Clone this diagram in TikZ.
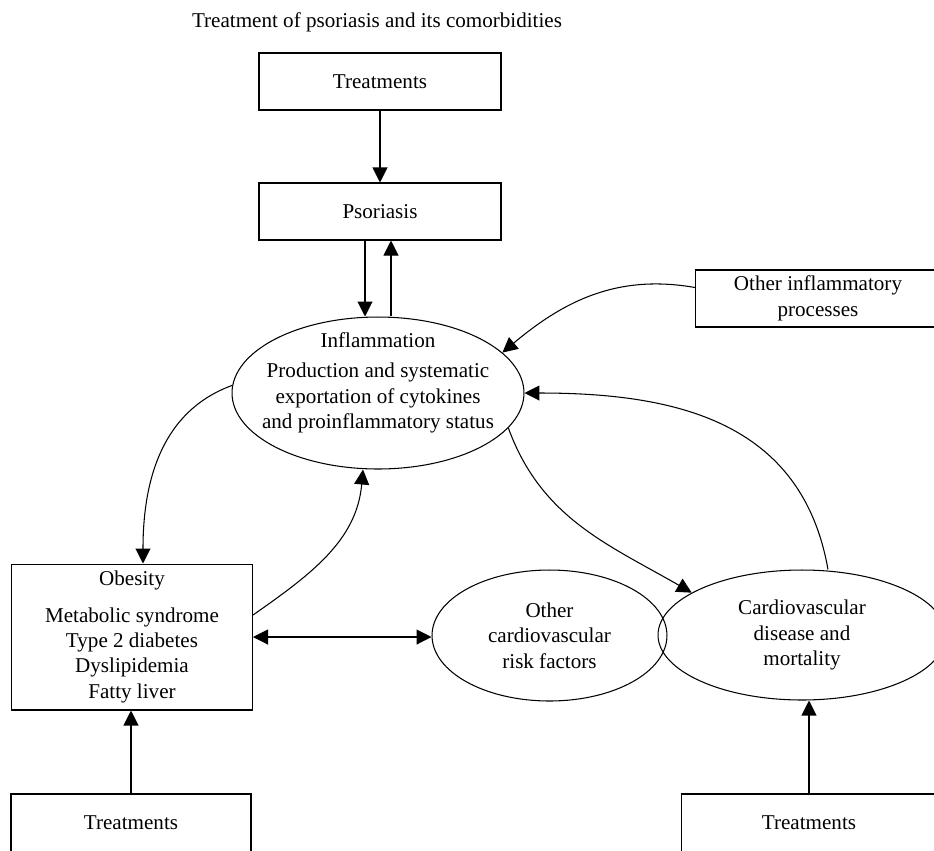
\documentclass[tikz,border=0pt]{standalone}
\usepackage{fontspec}
\setmainfont{Liberation Serif}
\usetikzlibrary{shapes.geometric,arrows.meta}

\begin{document}
\begin{tikzpicture}[x=0.02cm,y=-0.02cm]
				\tikzstyle{every node}=[inner sep=1pt, align=center, font=\fontsize{12}{14.5}\selectfont]
				\tikzstyle{box}=[draw, line width=0.6pt, minimum width=4.84cm, minimum height=1.14cm]
				\tikzstyle{oval}=[draw, ellipse, line width=0.6pt, inner sep=0pt]
				\tikzstyle{arr}=[-{Triangle[length=0.3cm, width=0.3cm]}, line width=0.6pt]
				\tikzstyle{arrs}=[{Triangle[length=0.3cm, width=0.3cm]}-{Triangle[length=0.3cm, width=0.3cm]}, line width=0.6pt]
				\useasboundingbox (0,0) rectangle (934,850);
				\node (title) at (377,22) {Treatment of psoriasis and its comorbidities};
				\node [box] (T) at (380,81.5) {Treatments};
				\node [box] (P) at (380,211.5) {Psoriasis};
				\node [oval, minimum width=5.84cm, minimum height=3.04cm] (I) at (378,393) {};
				\node (Itext) at (378,383) {Inflammation\\[2.5pt] Production and systematic\\ exportation of cytokines\\ and proinflammatory status};
				\node [box, minimum width=4.9cm] (OI) at (818,298.5) {Other inflammatory\\ processes};
				\node [box, minimum width=4.82cm, minimum height=2.92cm] (O) at (132,637) {Obesity\\[6.2pt] Metabolic syndrome\\ Type 2 diabetes\\ Dyslipidemia\\ Fatty liver};
				\node [oval, minimum width=4.7cm, minimum height=2.62cm] (R) at (549.5,635.5) {Other\\ cardiovascular\\ risk factors};
				\node [oval, minimum width=5.76cm, minimum height=2.6cm] (C) at (802,635) {Cardiovascular\\ disease and\\ mortality};
				\node [box, minimum width=4.8cm, minimum height=1.16cm] (T1) at (131,823) {Treatments};
				\node [box, minimum width=5.1cm, minimum height=1.16cm] (T2) at (809,823) {Treatments};
				\draw [arr] (T) -- (P);
				\draw [arr] ([xshift=-0.3cm]P.south) -- ([xshift=-0.3cm]P.south |- I.north);
				\draw [arr] ([xshift=0.22cm]P.south |- I.north) -- ([xshift=0.22cm]P.south);
				\draw [arr] ([yshift=0.22cm]OI.west) to[out=170, in=40] (I.18);
				\draw [arr] (I.177) to[out=200, in=90] ([xshift=0.22cm]O.north);
				\draw [arr] ([yshift=0.44cm]O.east) to[out=35, in=265] ([xshift=-0.3cm]I.south);
				\draw [arr] (I.-15) to[out=-70, in=150] (C.159);
				\draw [arr] ([xshift=0.52cm]C.north) to[out=100, in=0, looseness=1.1] (I.east);
				\draw [arrs] (O.east) -- (O.east -| R.west);
				\draw [arr] (T1.north) -- (T1.north |- O.south);
				\draw [arr] (T2.north) -- (T2.north |- C.south);
		\end{tikzpicture}
\end{document}
